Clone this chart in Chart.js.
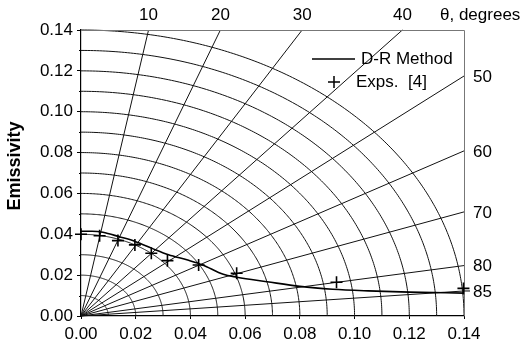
<!DOCTYPE html>
<html>
<head>
<meta charset="utf-8">
<script src="https://cdn.jsdelivr.net/npm/chart.js@4/dist/chart.umd.min.js"></script>
<style>
  html, body { margin: 0; padding: 0; background: #fff; }
  #wrap { width: 525px; height: 347px; position: relative; }
</style>
</head>
<body>
<div id="wrap"><canvas id="c" width="525" height="347"></canvas></div>
<script>
// ---- data ----
const drX = [0, 0.004, 0.008, 0.014, 0.020, 0.026, 0.032, 0.039, 0.0445, 0.052, 0.057, 0.068, 0.080, 0.092, 0.105, 0.120, 0.140];
const drY = [0.0415, 0.0415, 0.0410, 0.0388, 0.0364, 0.0331, 0.0300, 0.0274, 0.0250, 0.0204, 0.0190, 0.0168, 0.0145, 0.0131, 0.0123, 0.0117, 0.0112];
const expX = [0, 0.0068, 0.0135, 0.0197, 0.0257, 0.0316, 0.0430, 0.0569, 0.0934, 0.1398];
const expY = [0.0400, 0.0393, 0.0369, 0.0348, 0.0307, 0.0271, 0.0250, 0.0209, 0.0165, 0.0135];
// polar grid
const gridRadii = [0.01, 0.02, 0.03, 0.04, 0.05, 0.06, 0.07, 0.08, 0.09, 0.10, 0.11, 0.12, 0.13, 0.14];
const gridAngles = [10, 20, 30, 40, 50, 60, 70, 80, 85];
const angleLabels = ['10', '20', '30', '40', '50', '60', '70', '80', '85'];
const axisTicks = [0, 0.02, 0.04, 0.06, 0.08, 0.10, 0.12, 0.14];
const minorTicks = [0.01, 0.03, 0.05, 0.07, 0.09, 0.11, 0.13];
const seriesNames = ['D-R Method', 'Exps.  [4]'];
const axisMax = 0.14;

const FONT = '"Liberation Sans", Arial, sans-serif';

const polarGrid = {
  id: 'polarGrid',
  beforeDatasetsDraw(chart) {
    const { ctx, scales: { x, y }, chartArea: a } = chart;
    ctx.save();
    ctx.strokeStyle = '#111';
    ctx.lineWidth = 1;
    // arcs
    gridRadii.forEach(r => {
      ctx.beginPath();
      for (let i = 0; i <= 180; i++) {
        const t = (i / 180) * Math.PI / 2;
        const px = x.getPixelForValue(r * Math.sin(t));
        const py = y.getPixelForValue(r * Math.cos(t));
        if (i === 0) ctx.moveTo(px, py); else ctx.lineTo(px, py);
      }
      ctx.stroke();
    });
    // radial lines
    gridAngles.forEach(deg => {
      const t = deg * Math.PI / 180;
      let ex, ey;
      if (deg <= 45) { ey = axisMax; ex = axisMax * Math.tan(t); }
      else { ex = axisMax; ey = axisMax / Math.tan(t); }
      ctx.beginPath();
      ctx.moveTo(x.getPixelForValue(0), y.getPixelForValue(0));
      ctx.lineTo(x.getPixelForValue(ex), y.getPixelForValue(ey));
      ctx.stroke();
    });
    // top and right frame
    ctx.strokeStyle = '#777';
    ctx.beginPath();
    ctx.moveTo(a.left, a.top + 0.5);
    ctx.lineTo(a.right + 0.5, a.top + 0.5);
    ctx.lineTo(a.right + 0.5, a.bottom);
    ctx.stroke();
    // minor ticks on y axis
    ctx.strokeStyle = '#000';
    minorTicks.forEach(v => {
      const py = Math.round(y.getPixelForValue(v)) + 0.5;
      ctx.beginPath();
      ctx.moveTo(a.left - 2, py);
      ctx.lineTo(a.left, py);
      ctx.stroke();
    });
    ctx.restore();
  },
  afterDraw(chart) {
    const { ctx, scales: { x, y }, chartArea: a } = chart;
    ctx.save();
    ctx.fillStyle = '#000';
    ctx.font = '17px ' + FONT;
    ctx.textBaseline = 'middle';
    gridAngles.forEach((deg, i) => {
      const t = deg * Math.PI / 180;
      if (deg <= 45) {
        ctx.textAlign = 'center';
        ctx.fillText(angleLabels[i], x.getPixelForValue(axisMax * Math.tan(t)), a.top - 15);
      } else {
        ctx.textAlign = 'left';
        const py = y.getPixelForValue(axisMax / Math.tan(t));
        ctx.fillText(angleLabels[i], a.right + 9, py + 1);
      }
    });
    ctx.textAlign = 'left';
    ctx.fillText('\u03B8, degrees', a.right - 24, a.top - 15);
    // tick at 85 on right
    ctx.strokeStyle = '#000';
    ctx.lineWidth = 1;
    const p85 = y.getPixelForValue(axisMax / Math.tan(85 * Math.PI / 180));
    ctx.beginPath();
    ctx.moveTo(a.right, p85); ctx.lineTo(a.right + 6, p85);
    ctx.stroke();
    // legend
    const lx = a.right - 152, ly = a.top + 29;
    ctx.lineWidth = 1.5;
    ctx.beginPath();
    ctx.moveTo(lx, ly); ctx.lineTo(lx + 43, ly);
    ctx.stroke();
    ctx.fillText(seriesNames[0], lx + 49, ly);
    const mx = lx + 22, my = ly + 23;
    ctx.beginPath();
    ctx.moveTo(mx - 6, my); ctx.lineTo(mx + 6, my);
    ctx.moveTo(mx, my - 6); ctx.lineTo(mx, my + 6);
    ctx.stroke();
    ctx.fillText(seriesNames[1], lx + 44, my);
    // y axis title
    ctx.save();
    ctx.font = 'bold 18px ' + FONT;
    ctx.textAlign = 'center';
    ctx.translate(15, 166);
    ctx.rotate(-Math.PI / 2);
    ctx.fillText('Emissivity', 0, 0);
    ctx.restore();
    ctx.restore();
  }
};

new Chart(document.getElementById('c'), {
  type: 'scatter',
  data: {
    datasets: [
      {
        label: seriesNames[0],
        data: drX.map((v, i) => ({ x: v, y: drY[i] })),
        showLine: true,
        borderColor: '#000',
        borderWidth: 1.6,
        pointRadius: 0,
        cubicInterpolationMode: 'monotone',
        clip: false
      },
      {
        label: seriesNames[1],
        data: expX.map((v, i) => ({ x: v, y: expY[i] })),
        showLine: false,
        pointStyle: 'cross',
        pointRadius: 6,
        pointBorderWidth: 1.6,
        borderColor: '#000',
        backgroundColor: '#000',
        clip: false
      }
    ]
  },
  options: {
    responsive: false,
    animation: false,
    devicePixelRatio: 1,
    layout: { padding: { left: 0, top: 30, right: 61, bottom: 0 } },
    plugins: { legend: { display: false }, tooltip: { enabled: false } },
    scales: {
      x: {
        type: 'linear', min: 0, max: axisMax,
        afterBuildTicks: s => { s.ticks = axisTicks.map(v => ({ value: v })); },
        afterFit: s => { s.height = 31; },
        grid: { drawOnChartArea: false, drawTicks: true, tickLength: 3, color: '#000' },
        border: { display: true, color: '#000', width: 1.2 },
        ticks: { color: '#000', font: { size: 17, family: FONT }, padding: 5, maxRotation: 0,
                 callback: v => Number(v).toFixed(2) }
      },
      y: {
        type: 'linear', min: 0, max: axisMax,
        afterBuildTicks: s => { s.ticks = axisTicks.map(v => ({ value: v })); },
        afterFit: s => { s.width = 81; },
        grid: { drawOnChartArea: false, drawTicks: true, tickLength: 4, color: '#000' },
        border: { display: true, color: '#000', width: 1.2 },
        ticks: { color: '#000', font: { size: 17, family: FONT }, padding: 4,
                 callback: v => Number(v).toFixed(2) },
        title: { display: false }
      }
    }
  },
  plugins: [polarGrid]
});
</script>
</body>
</html>
